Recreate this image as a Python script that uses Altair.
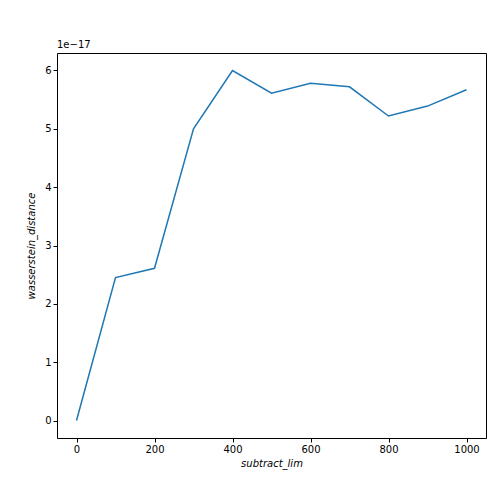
import altair as alt
import pandas as pd

subtract_lim = [0, 100, 200, 300, 400, 500, 600, 700, 800, 900, 1000]
# values in units of 1e-17
distance = [0.0, 2.45, 2.61, 5.0, 6.0, 5.61, 5.78, 5.72, 5.22, 5.39, 5.67]

df = pd.DataFrame({"x": subtract_lim, "y": distance})

axis_style = dict(
    grid=False,
    domain=False,
    tickColor="black",
    tickSize=4,
    labelFontSize=10,
    labelColor="black",
    titleFontSize=10,
    titleFontWeight="normal",
    titleFontStyle="italic",
    titleColor="black",
    labelFont="DejaVu Sans",
    titleFont="DejaVu Sans",
)

line = (
    alt.Chart(df)
    .mark_line(color="#1f77b4", strokeWidth=1.5)
    .encode(
        x=alt.X(
            "x:Q",
            title="subtract_lim",
            scale=alt.Scale(domain=[-50, 1050], nice=False, zero=False),
            axis=alt.Axis(values=[0, 200, 400, 600, 800, 1000], format="d", **axis_style),
        ),
        y=alt.Y(
            "y:Q",
            title="wasserstein_distance",
            scale=alt.Scale(domain=[-0.3, 6.3], nice=False, zero=False),
            axis=alt.Axis(values=[0, 1, 2, 3, 4, 5, 6], titlePadding=8, **axis_style),
        ),
    )
)

offset = (
    alt.Chart(pd.DataFrame({"t": ["1e\u221217"]}))
    .mark_text(align="left", baseline="bottom", fontSize=10, font="DejaVu Sans", dy=-3)
    .encode(x=alt.value(0), y=alt.value(0), text="t:N")
)

chart = (
    (line + offset)
    .properties(
        width=429,
        height=385,
        autosize=alt.AutoSizeParams(type="none"),
        padding={"left": 49, "top": 45, "right": 6, "bottom": 54},
        title=alt.TitleParams(
            "Wasserstein Distance result of nbc.nb_fitness.cor.",
            fontSize=12,
            fontWeight="normal",
            font="DejaVu Sans",
            offset=20,
            baseline="bottom",
        ),
    )
    .configure_view(stroke="black", strokeWidth=1)
)

chart.save("out.html", embed_options={"renderer": "svg", "actions": False})
